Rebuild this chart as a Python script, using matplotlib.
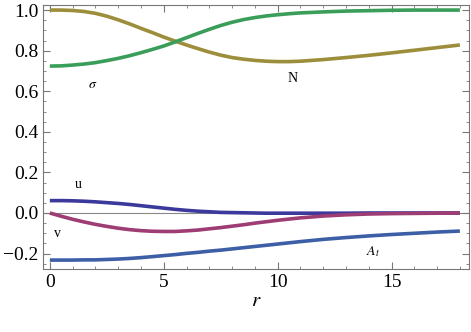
import matplotlib.pyplot as plt
from matplotlib.ticker import MultipleLocator

# values (half steps where the curves bend)
r = [0, 0.5, 1, 1.5, 2, 2.5, 3, 3.5, 4, 4.5, 5, 5.5, 6, 6.5, 7, 7.5, 8, 8.5, 9,
     9.5, 10, 10.5, 11, 12, 13, 14, 15, 16, 17, 18]
green = [0.724, 0.725, 0.729, 0.734, 0.741, 0.751, 0.762, 0.775, 0.79, 0.806, 0.823,
         0.843, 0.864, 0.885, 0.905, 0.924, 0.94, 0.953, 0.963, 0.971, 0.977, 0.982,
         0.986, 0.991, 0.995, 0.997, 0.999, 1.0, 1.0, 1.0]
gold = [1.0, 1.0, 0.998, 0.993, 0.984, 0.97, 0.952, 0.932, 0.91, 0.889, 0.867,
        0.847, 0.828, 0.81, 0.793, 0.778, 0.766, 0.758, 0.752, 0.748, 0.746, 0.746,
        0.748, 0.756, 0.766, 0.777, 0.789, 0.802, 0.815, 0.828]
u = [0.061, 0.061, 0.06, 0.058, 0.055, 0.051, 0.047, 0.042, 0.036, 0.03, 0.024,
     0.018, 0.013, 0.009, 0.006, 0.003, 0.002, 0.001, 0.0, -0.001, -0.001, -0.001,
     -0.001, -0.001, -0.001, 0.0, 0.0, 0.0, 0.0, 0.0]
v = [0.0, -0.016, -0.031, -0.044, -0.056, -0.066, -0.075, -0.082, -0.087, -0.09,
     -0.091, -0.091, -0.088, -0.084, -0.078, -0.072, -0.065, -0.058, -0.05, -0.043,
     -0.036, -0.03, -0.024, -0.015, -0.009, -0.005, -0.003, -0.002, -0.001, 0.0]
a_t = [-0.232, -0.232, -0.232, -0.231, -0.231, -0.229, -0.227, -0.224, -0.22, -0.215,
       -0.21, -0.205, -0.199, -0.194, -0.188, -0.183, -0.177, -0.171, -0.165, -0.159,
       -0.153, -0.147, -0.141, -0.13, -0.121, -0.113, -0.106, -0.1, -0.094, -0.089]

series = [
    (gold, '#9c8e3a'),
    (green, '#3a9e5a'),
    (u, '#3b3a9c'),
    (v, '#9e3c74'),
    (a_t, '#3d5fa5'),
]

labels = [
    (1.9, 0.635, r'$\sigma$'),
    (10.65, 0.665, 'N'),
    (1.26, 0.138, 'u'),
    (0.34, -0.099, 'v'),
    (14.2, -0.19, r'$A_t$'),
]

plt.rcParams['font.family'] = 'Liberation Serif'
plt.rcParams['mathtext.fontset'] = 'stix'

fig = plt.figure(figsize=(4.71, 3.32), dpi=100)
ax = fig.add_axes([43 / 471, 1 - 269 / 332, 426 / 471, 264 / 332])

for ys, c in series:
    ax.plot(r, ys, color=c, lw=2.6, solid_capstyle='butt', solid_joinstyle='round')

ax.axhline(0, color='#888888', lw=0.8, zorder=0)

for x, y, t in labels:
    ax.text(x, y, t, fontsize=10, ha='center', va='center')

ax.set_xlim(-0.3, 18.4)
ax.set_ylim(-0.276, 1.025)
ax.xaxis.set_major_locator(MultipleLocator(5))
ax.xaxis.set_minor_locator(MultipleLocator(1))
ax.yaxis.set_major_locator(MultipleLocator(0.2))
ax.yaxis.set_minor_locator(MultipleLocator(0.05))
ax.yaxis.set_major_formatter(plt.FuncFormatter(lambda y, p: f'{y:.1f}'.replace('-', '\u2212')))

ax.tick_params(which='both', direction='in', top=True, right=True,
               color='#777777', labelsize=14)
ax.tick_params(which='major', length=5, width=0.8)
ax.tick_params(which='minor', length=2.5, width=0.6)
for s in ax.spines.values():
    s.set_color('#777777')
    s.set_linewidth(0.8)

ax.set_xlabel('$r$', fontsize=15, labelpad=1)

fig.savefig('out.png', dpi=100)
